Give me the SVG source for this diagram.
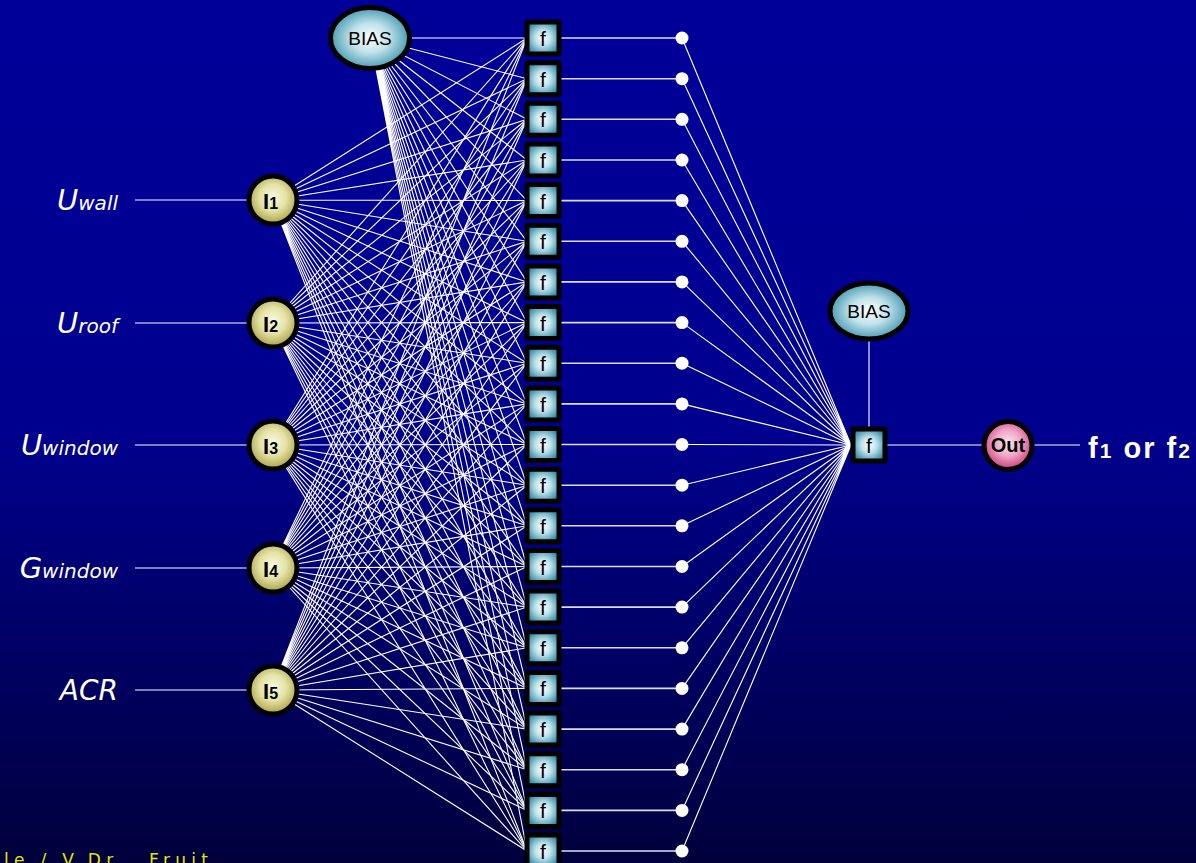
<svg xmlns="http://www.w3.org/2000/svg" width="1196" height="863" viewBox="0 0 1196 863">
<defs>
<linearGradient id="bg" x1="0" y1="0" x2="0" y2="1">
<stop offset="0" stop-color="#000099"/>
<stop offset="0.5" stop-color="#00008e"/>
<stop offset="1" stop-color="#00003c"/>
</linearGradient>
<radialGradient id="teal" cx="0.5" cy="0.5" r="0.6">
<stop offset="0" stop-color="#ffffff"/>
<stop offset="0.4" stop-color="#bfe2ea"/>
<stop offset="1" stop-color="#1f7f9e"/>
</radialGradient>
<radialGradient id="yel" cx="0.5" cy="0.45" r="0.55">
<stop offset="0" stop-color="#fafae0"/>
<stop offset="0.5" stop-color="#e4e2a6"/>
<stop offset="1" stop-color="#a8a040"/>
</radialGradient>
<radialGradient id="pink" cx="0.5" cy="0.45" r="0.55">
<stop offset="0" stop-color="#fbe6ef"/>
<stop offset="0.5" stop-color="#efa6c6"/>
<stop offset="1" stop-color="#c83a7a"/>
</radialGradient>
<style>
.c{stroke:#ffffff;stroke-width:1.1;fill:none}
.h{stroke:#dcdcf4;stroke-width:1.6;fill:none}
.box{fill:url(#teal);stroke:#000;stroke-width:5;stroke-linejoin:round}
.ell{fill:url(#teal);stroke:#000;stroke-width:5}
.inp{fill:url(#yel);stroke:#000;stroke-width:5}
.ft{font-family:"Liberation Sans",Arial,sans-serif;font-size:21px;fill:#000;text-anchor:middle}
.bt{font-family:"Liberation Sans",Arial,sans-serif;font-size:19px;fill:#000;text-anchor:middle}
.it{font-family:"Liberation Sans",Arial,sans-serif;font-weight:bold;fill:#000}
.lab{font-family:"DejaVu Sans",sans-serif;font-style:italic;fill:#fff;text-anchor:end}
.dot{fill:#fff}
</style>
</defs>
<rect width="1196" height="863" fill="url(#bg)"/>
<g id="connectors">
<line class="c" x1="135" y1="200" x2="250" y2="200"/>
<line class="c" x1="135" y1="323" x2="250" y2="323"/>
<line class="c" x1="135" y1="445" x2="250" y2="445"/>
<line class="c" x1="135" y1="568" x2="250" y2="568"/>
<line class="c" x1="135" y1="690" x2="250" y2="690"/>
<path class="c" d="M370 38L527 38M370 38L527 78.7M370 38L527 119.3M370 38L527 160M370 38L527 200.6M370 38L527 241.3M370 38L527 281.9M370 38L527 322.6M370 38L527 363.2M370 38L527 403.9M370 38L527 444.5M370 38L527 485.2M370 38L527 525.8M370 38L527 566.5M370 38L527 607.1M370 38L527 647.8M370 38L527 688.4M370 38L527 729.1M370 38L527 769.7M370 38L527 810.4M370 38L527 851"/>
<path class="c" d="M272 200L527 38M272 200L527 78.7M272 200L527 119.3M272 200L527 160M272 200L527 200.6M272 200L527 241.3M272 200L527 281.9M272 200L527 322.6M272 200L527 363.2M272 200L527 403.9M272 200L527 444.5M272 200L527 485.2M272 200L527 525.8M272 200L527 566.5M272 200L527 607.1M272 200L527 647.8M272 200L527 688.4M272 200L527 729.1M272 200L527 769.7M272 200L527 810.4M272 200L527 851"/>
<path class="c" d="M272 323L527 38M272 323L527 78.7M272 323L527 119.3M272 323L527 160M272 323L527 200.6M272 323L527 241.3M272 323L527 281.9M272 323L527 322.6M272 323L527 363.2M272 323L527 403.9M272 323L527 444.5M272 323L527 485.2M272 323L527 525.8M272 323L527 566.5M272 323L527 607.1M272 323L527 647.8M272 323L527 688.4M272 323L527 729.1M272 323L527 769.7M272 323L527 810.4M272 323L527 851"/>
<path class="c" d="M272 445L527 38M272 445L527 78.7M272 445L527 119.3M272 445L527 160M272 445L527 200.6M272 445L527 241.3M272 445L527 281.9M272 445L527 322.6M272 445L527 363.2M272 445L527 403.9M272 445L527 444.5M272 445L527 485.2M272 445L527 525.8M272 445L527 566.5M272 445L527 607.1M272 445L527 647.8M272 445L527 688.4M272 445L527 729.1M272 445L527 769.7M272 445L527 810.4M272 445L527 851"/>
<path class="c" d="M272 568L527 38M272 568L527 78.7M272 568L527 119.3M272 568L527 160M272 568L527 200.6M272 568L527 241.3M272 568L527 281.9M272 568L527 322.6M272 568L527 363.2M272 568L527 403.9M272 568L527 444.5M272 568L527 485.2M272 568L527 525.8M272 568L527 566.5M272 568L527 607.1M272 568L527 647.8M272 568L527 688.4M272 568L527 729.1M272 568L527 769.7M272 568L527 810.4M272 568L527 851"/>
<path class="c" d="M272 690L527 38M272 690L527 78.7M272 690L527 119.3M272 690L527 160M272 690L527 200.6M272 690L527 241.3M272 690L527 281.9M272 690L527 322.6M272 690L527 363.2M272 690L527 403.9M272 690L527 444.5M272 690L527 485.2M272 690L527 525.8M272 690L527 566.5M272 690L527 607.1M272 690L527 647.8M272 690L527 688.4M272 690L527 729.1M272 690L527 769.7M272 690L527 810.4M272 690L527 851"/>
<path class="h" d="M560 38H682M560 78.7H682M560 119.3H682M560 160H682M560 200.6H682M560 241.3H682M560 281.9H682M560 322.6H682M560 363.2H682M560 403.9H682M560 444.5H682M560 485.2H682M560 525.8H682M560 566.5H682M560 607.1H682M560 647.8H682M560 688.4H682M560 729.1H682M560 769.7H682M560 810.4H682M560 851H682"/>
<path class="c" d="M682 38L851 445M682 78.7L851 445M682 119.3L851 445M682 160L851 445M682 200.6L851 445M682 241.3L851 445M682 281.9L851 445M682 322.6L851 445M682 363.2L851 445M682 403.9L851 445M682 444.5L851 445M682 485.2L851 445M682 525.8L851 445M682 566.5L851 445M682 607.1L851 445M682 647.8L851 445M682 688.4L851 445M682 729.1L851 445M682 769.7L851 445M682 810.4L851 445M682 851L851 445"/>
<line class="c" x1="869" y1="340" x2="869" y2="429"/>
<line class="c" x1="887" y1="445" x2="984" y2="445"/>
<line class="c" x1="1032" y1="445" x2="1080" y2="445"/>
</g>
<g id="dots">
<circle class="dot" cx="682" cy="38" r="6.5"/><circle class="dot" cx="682" cy="78.7" r="6.5"/><circle class="dot" cx="682" cy="119.3" r="6.5"/><circle class="dot" cx="682" cy="160" r="6.5"/><circle class="dot" cx="682" cy="200.6" r="6.5"/><circle class="dot" cx="682" cy="241.3" r="6.5"/><circle class="dot" cx="682" cy="281.9" r="6.5"/><circle class="dot" cx="682" cy="322.6" r="6.5"/><circle class="dot" cx="682" cy="363.2" r="6.5"/><circle class="dot" cx="682" cy="403.9" r="6.5"/><circle class="dot" cx="682" cy="444.5" r="6.5"/><circle class="dot" cx="682" cy="485.2" r="6.5"/><circle class="dot" cx="682" cy="525.8" r="6.5"/><circle class="dot" cx="682" cy="566.5" r="6.5"/><circle class="dot" cx="682" cy="607.1" r="6.5"/><circle class="dot" cx="682" cy="647.8" r="6.5"/><circle class="dot" cx="682" cy="688.4" r="6.5"/><circle class="dot" cx="682" cy="729.1" r="6.5"/><circle class="dot" cx="682" cy="769.7" r="6.5"/><circle class="dot" cx="682" cy="810.4" r="6.5"/><circle class="dot" cx="682" cy="851" r="6.5"/>
</g>
<g id="labels">
<text class="lab" x="118" y="210"><tspan font-size="29">U</tspan><tspan font-size="20">wall</tspan></text>
<text class="lab" x="118" y="333"><tspan font-size="29">U</tspan><tspan font-size="20">roof</tspan></text>
<text class="lab" x="118" y="455"><tspan font-size="29">U</tspan><tspan font-size="20">window</tspan></text>
<text class="lab" x="118" y="578"><tspan font-size="29">G</tspan><tspan font-size="20">window</tspan></text>
<text class="lab" x="118" y="700" font-size="28">ACR</text>
</g>
<g id="bias1">
<ellipse class="ell" cx="370" cy="38" rx="39.5" ry="30.5"/>
<text class="bt" x="370" y="45">BIAS</text>
</g>
<g id="I1"><circle class="inp" cx="273" cy="200" r="24"/><text class="it" x="263" y="209"><tspan font-size="22">I</tspan><tspan font-size="16">1</tspan></text></g>
<g id="I2"><circle class="inp" cx="273" cy="323" r="24"/><text class="it" x="263" y="332"><tspan font-size="22">I</tspan><tspan font-size="16">2</tspan></text></g>
<g id="I3"><circle class="inp" cx="273" cy="445" r="24"/><text class="it" x="263" y="454"><tspan font-size="22">I</tspan><tspan font-size="16">3</tspan></text></g>
<g id="I4"><circle class="inp" cx="273" cy="568" r="24"/><text class="it" x="263" y="577"><tspan font-size="22">I</tspan><tspan font-size="16">4</tspan></text></g>
<g id="I5"><circle class="inp" cx="273" cy="690" r="24"/><text class="it" x="263" y="699"><tspan font-size="22">I</tspan><tspan font-size="16">5</tspan></text></g>
<g id="h1"><rect class="box" x="527" y="22" width="32" height="32"/><text class="ft" x="543" y="46">f</text></g>
<g id="h2"><rect class="box" x="527" y="62.7" width="32" height="32"/><text class="ft" x="543" y="86.7">f</text></g>
<g id="h3"><rect class="box" x="527" y="103.3" width="32" height="32"/><text class="ft" x="543" y="127.3">f</text></g>
<g id="h4"><rect class="box" x="527" y="144" width="32" height="32"/><text class="ft" x="543" y="168">f</text></g>
<g id="h5"><rect class="box" x="527" y="184.6" width="32" height="32"/><text class="ft" x="543" y="208.6">f</text></g>
<g id="h6"><rect class="box" x="527" y="225.3" width="32" height="32"/><text class="ft" x="543" y="249.3">f</text></g>
<g id="h7"><rect class="box" x="527" y="265.9" width="32" height="32"/><text class="ft" x="543" y="289.9">f</text></g>
<g id="h8"><rect class="box" x="527" y="306.6" width="32" height="32"/><text class="ft" x="543" y="330.6">f</text></g>
<g id="h9"><rect class="box" x="527" y="347.2" width="32" height="32"/><text class="ft" x="543" y="371.2">f</text></g>
<g id="h10"><rect class="box" x="527" y="387.9" width="32" height="32"/><text class="ft" x="543" y="411.9">f</text></g>
<g id="h11"><rect class="box" x="527" y="428.5" width="32" height="32"/><text class="ft" x="543" y="452.5">f</text></g>
<g id="h12"><rect class="box" x="527" y="469.2" width="32" height="32"/><text class="ft" x="543" y="493.2">f</text></g>
<g id="h13"><rect class="box" x="527" y="509.8" width="32" height="32"/><text class="ft" x="543" y="533.8">f</text></g>
<g id="h14"><rect class="box" x="527" y="550.5" width="32" height="32"/><text class="ft" x="543" y="574.5">f</text></g>
<g id="h15"><rect class="box" x="527" y="591.1" width="32" height="32"/><text class="ft" x="543" y="615.1">f</text></g>
<g id="h16"><rect class="box" x="527" y="631.8" width="32" height="32"/><text class="ft" x="543" y="655.8">f</text></g>
<g id="h17"><rect class="box" x="527" y="672.4" width="32" height="32"/><text class="ft" x="543" y="696.4">f</text></g>
<g id="h18"><rect class="box" x="527" y="713.1" width="32" height="32"/><text class="ft" x="543" y="737.1">f</text></g>
<g id="h19"><rect class="box" x="527" y="753.7" width="32" height="32"/><text class="ft" x="543" y="777.7">f</text></g>
<g id="h20"><rect class="box" x="527" y="794.4" width="32" height="32"/><text class="ft" x="543" y="818.4">f</text></g>
<g id="h21"><rect class="box" x="527" y="835" width="32" height="32"/><text class="ft" x="543" y="859">f</text></g>
<g id="bias2">
<ellipse class="ell" cx="869" cy="311" rx="39" ry="28"/>
<text class="bt" x="869" y="318">BIAS</text>
</g>
<g id="fout"><rect class="box" x="853" y="429" width="32" height="32"/><text class="ft" x="869" y="453">f</text></g>
<g id="out">
<circle cx="1008" cy="445.5" r="24" fill="url(#pink)" stroke="#000" stroke-width="5"/>
<text class="it" x="1008" y="452" font-size="20" text-anchor="middle">Out</text>
</g>
<g id="result">
<text x="1088" y="458" font-family="Liberation Sans, Arial, sans-serif" font-weight="bold" fill="#fff" font-size="29" textLength="102" lengthAdjust="spacing">f<tspan font-size="21">1</tspan> or f<tspan font-size="21">2</tspan></text>
</g>
<text x="4" y="866" font-family="DejaVu Sans, sans-serif" font-size="17" fill="#e6e600" textLength="204" lengthAdjust="spacing">le / V.Dr.. Fruit</text>
</svg>
